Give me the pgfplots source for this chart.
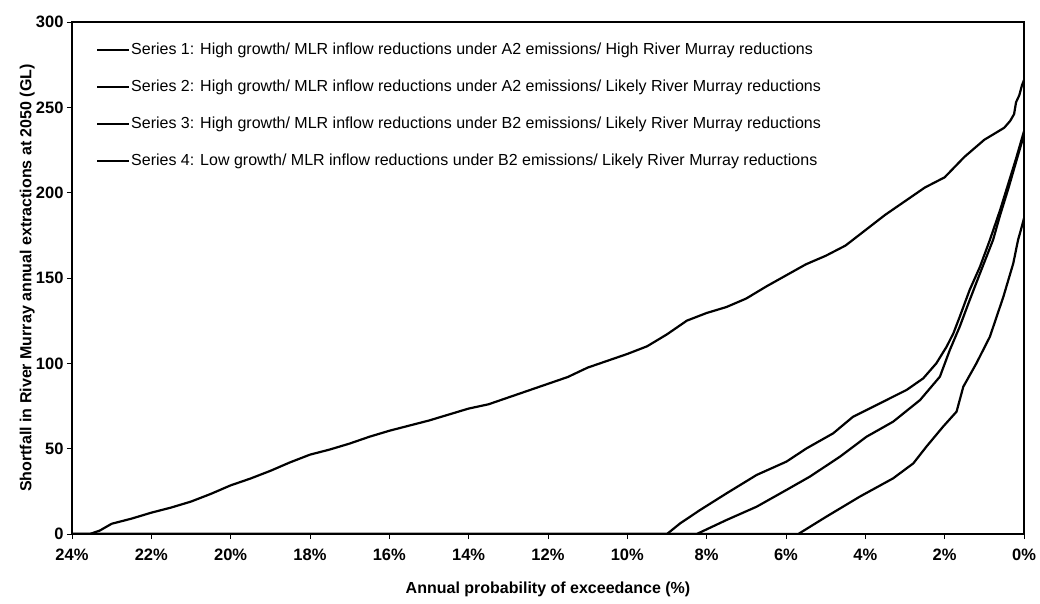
\documentclass[border=0pt]{standalone}
\usepackage{pgfplots}
\pgfplotsset{compat=1.18}
\usepackage{fontspec}
\setmainfont{Liberation Sans}
\begin{document}
\begin{tikzpicture}
\useasboundingbox (0pt,0pt) rectangle (1040pt,603pt);
\begin{axis}[
  at={(72pt,69pt)}, anchor=south west,
  width=952pt, height=512pt, scale only axis,
  x dir=reverse,
  xmin=0, xmax=24, ymin=0, ymax=300,
  xtick={0,2,...,24}, ytick={0,50,...,300},
  xtick pos=bottom, ytick pos=left,
  xticklabel={\pgfmathprintnumber{\tick}\%},
  /pgf/number format/assume math mode=true,
  tick label style={font=\bfseries\fontsize{16.5}{18}\selectfont},
  xticklabel style={yshift=-6pt},
  tick align=outside, major tick length=5pt,
  tick style={line width=0.8pt, black},
  axis line style={line width=2.2pt},
  xlabel={Annual probability of exceedance (\%)},
  ylabel={Shortfall in River Murray annual extractions at 2050 (GL)},
  label style={font=\bfseries\fontsize{16}{18}\selectfont},
  xlabel style={at={(axis description cs:0.5,-0.109)}, anchor=center},
  ylabel style={at={(axis description cs:-0.047,0.5)}, anchor=center},
  legend style={at={(axis description cs:0.0252,0.962)}, anchor=north west,
    draw=none, fill=none, inner sep=0pt, row sep=20pt,
    font=\fontsize{16}{18}\selectfont,
    nodes={text height=12pt, text depth=3pt, inner sep=1pt}},
  legend cell align=left,
  legend image code/.code={\draw[black, line width=2pt] (0pt,0pt) -- (32pt,0pt);},
]
\addplot[black, mark=none, line width=2.2pt, line join=round] coordinates {
(24,0)(23.55,0)(23.3,2)(23.0,6)(22.5,9)(22.0,12.5)(21.5,15.5)(21.0,19)(20.5,23.5)
(20.0,28.5)(19.5,32.5)(19.0,37)(18.5,42)(18.0,46.5)(17.5,49.5)(17.0,53)(16.5,57)
(16.0,60.5)(15.5,63.5)(15.0,66.5)(14.5,70)(14.0,73.5)(13.5,76)(13.0,80)(12.5,84)
(12.0,88)(11.5,92)(11.0,97.5)(10.5,101.5)(10.0,105.5)(9.5,110)(9.0,117)(8.5,125)
(8.0,129.5)(7.5,133)(7.0,138)(6.5,145)(6.0,151.5)(5.5,158)(5.0,163)(4.5,169)
(4.0,178)(3.5,187)(3.0,195)(2.5,203)(2.0,209)(1.5,221)(1.0,231)(0.5,238)
(0.35,242)(0.25,246)(0.2,253)(0.12,257)(0.05,263)(0.0,266)
};
\addlegendentry{Series 1: High growth/ MLR inflow reductions under A2 emissions/ High River Murray reductions}
\addplot[black, mark=none, line width=2.2pt, line join=round] coordinates {
(24,0)(9.0,0)(8.67,6.2)(8.17,14)(7.5,23.8)(6.74,34.6)(5.99,42.4)(5.48,50.2)
(4.81,59)(4.31,68.7)(3.63,76.6)(2.96,84.4)(2.54,91.2)(2.21,100)(1.95,109.8)
(1.78,117.6)(1.62,127.3)(1.37,143)(1.11,156.6)(0.86,172.3)(0.6,190)(0.4,205)
(0.2,220)(0.05,232)(0,236)
};
\addlegendentry{Series 2: High growth/ MLR inflow reductions under A2 emissions/ Likely River Murray reductions}
\addplot[black, mark=none, line width=2.2pt, line join=round] coordinates {
(24,0)(8.25,0)(7.5,8.2)(6.74,16)(5.99,25.8)(5.4,33.6)(4.64,45.3)(3.97,57)
(3.3,65.8)(2.62,78.5)(2.12,92.2)(1.87,107.8)(1.62,121.5)(1.37,137)(1.11,152.7)
(0.78,172.3)(0.6,187)(0.4,202)(0.2,218)(0.05,230)(0,234)
};
\addlegendentry{Series 3: High growth/ MLR inflow reductions under B2 emissions/ Likely River Murray reductions}
\addplot[black, mark=none, line width=2.2pt, line join=round] coordinates {
(24,0)(5.69,0)(4.98,10.2)(4.14,21.9)(3.3,32.6)(2.79,41.4)(2.46,51.2)(2.04,62.9)
(1.7,71.7)(1.53,86.3)(1.2,100)(0.86,115.6)(0.52,139)(0.27,158.6)(0.15,172.3)
(0.08,178)(0,185)
};
\addlegendentry{Series 4: Low growth/ MLR inflow reductions under B2 emissions/ Likely River Murray reductions}
\end{axis}
\end{tikzpicture}
\end{document}
